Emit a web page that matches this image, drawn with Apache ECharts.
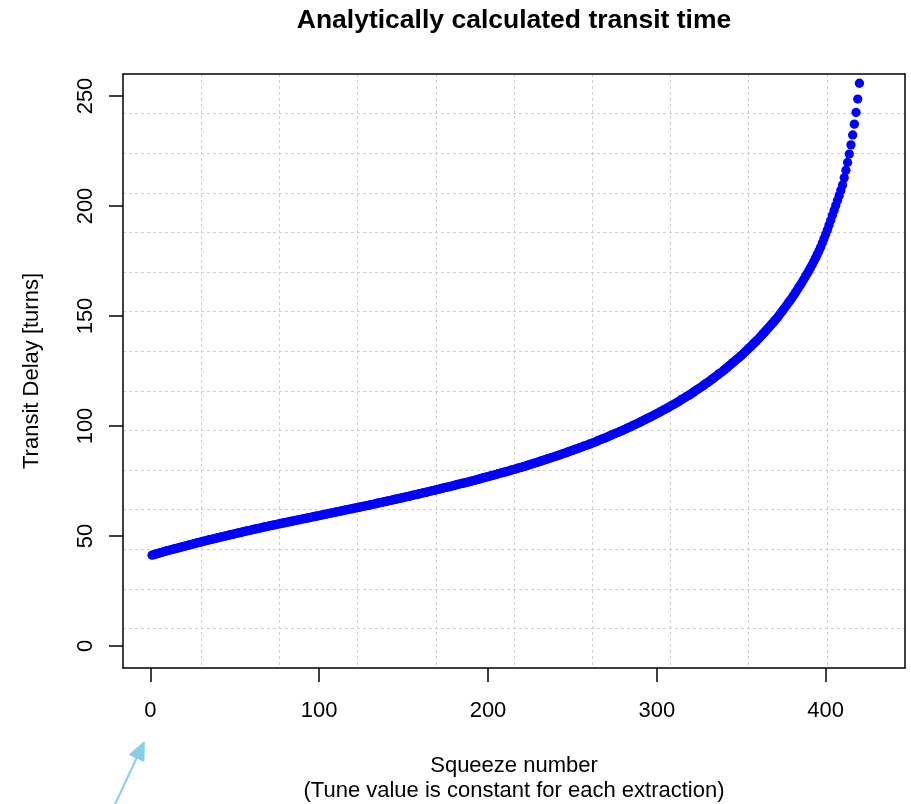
<!DOCTYPE html>
<html>
<head>
<meta charset="utf-8">
<title>Analytically calculated transit time</title>
<script src="https://cdn.jsdelivr.net/npm/echarts@6/dist/echarts.min.js"></script>
<style>
  html, body { margin: 0; padding: 0; background: #ffffff; }
  #chart { width: 911px; height: 804px; }
</style>
</head>
<body>
<div id="chart"></div>
<script>
// Transit delay (turns) for each squeeze, squeeze numbers 1..420 in order.
const firstSqueeze = 1;
const transitDelay = [
  41.3, 41.5, 41.7, 42.0, 42.2, 42.4, 42.6, 42.9, 43.1, 43.3,
  43.5, 43.7, 43.9, 44.1, 44.3, 44.5, 44.7, 44.9, 45.1, 45.3,
  45.5, 45.7, 45.9, 46.1, 46.3, 46.5, 46.7, 46.9, 47.1, 47.3,
  47.5, 47.7, 47.9, 48.1, 48.3, 48.4, 48.6, 48.8, 49.0, 49.2,
  49.4, 49.6, 49.7, 49.9, 50.1, 50.3, 50.5, 50.6, 50.8, 51.0,
  51.2, 51.4, 51.5, 51.7, 51.9, 52.1, 52.3, 52.4, 52.6, 52.8,
  53.0, 53.1, 53.3, 53.5, 53.6, 53.8, 54.0, 54.2, 54.3, 54.5,
  54.7, 54.8, 55.0, 55.1, 55.3, 55.5, 55.6, 55.8, 55.9, 56.1,
  56.3, 56.4, 56.6, 56.7, 56.9, 57.1, 57.2, 57.4, 57.5, 57.7,
  57.9, 58.0, 58.2, 58.3, 58.5, 58.7, 58.8, 59.0, 59.1, 59.3,
  59.5, 59.6, 59.8, 59.9, 60.1, 60.3, 60.4, 60.6, 60.7, 60.9,
  61.1, 61.2, 61.4, 61.5, 61.7, 61.9, 62.0, 62.2, 62.3, 62.5,
  62.7, 62.8, 63.0, 63.1, 63.3, 63.5, 63.6, 63.8, 63.9, 64.1,
  64.3, 64.4, 64.6, 64.8, 65.0, 65.1, 65.3, 65.5, 65.6, 65.8,
  66.0, 66.1, 66.3, 66.5, 66.7, 66.8, 67.0, 67.2, 67.3, 67.5,
  67.7, 67.9, 68.0, 68.2, 68.4, 68.6, 68.8, 68.9, 69.1, 69.3,
  69.5, 69.7, 69.8, 70.0, 70.2, 70.4, 70.6, 70.7, 70.9, 71.1,
  71.3, 71.5, 71.7, 71.9, 72.1, 72.2, 72.4, 72.6, 72.8, 73.0,
  73.2, 73.4, 73.6, 73.8, 74.0, 74.1, 74.3, 74.5, 74.7, 74.9,
  75.1, 75.3, 75.5, 75.7, 75.9, 76.2, 76.4, 76.6, 76.8, 77.0,
  77.2, 77.4, 77.6, 77.8, 78.0, 78.3, 78.5, 78.7, 78.9, 79.1,
  79.3, 79.5, 79.8, 80.0, 80.2, 80.4, 80.6, 80.9, 81.1, 81.3,
  81.5, 81.8, 82.0, 82.3, 82.5, 82.7, 83.0, 83.2, 83.5, 83.7,
  84.0, 84.2, 84.5, 84.7, 85.0, 85.2, 85.5, 85.7, 86.0, 86.2,
  86.5, 86.7, 87.0, 87.3, 87.6, 87.8, 88.1, 88.4, 88.6, 88.9,
  89.2, 89.5, 89.7, 90.0, 90.3, 90.6, 90.9, 91.1, 91.4, 91.7,
  92.0, 92.3, 92.6, 92.9, 93.3, 93.6, 93.9, 94.2, 94.5, 94.8,
  95.1, 95.5, 95.8, 96.1, 96.5, 96.8, 97.1, 97.4, 97.8, 98.1,
  98.5, 98.8, 99.2, 99.5, 99.9, 100.3, 100.6, 101.0, 101.3, 101.7,
  102.1, 102.5, 102.9, 103.3, 103.7, 104.0, 104.4, 104.8, 105.2, 105.6,
  106.0, 106.4, 106.9, 107.3, 107.7, 108.1, 108.5, 109.0, 109.4, 109.8,
  110.3, 110.7, 111.2, 111.7, 112.2, 112.6, 113.1, 113.6, 114.0, 114.5,
  115.0, 115.5, 116.1, 116.6, 117.1, 117.6, 118.1, 118.7, 119.2, 119.7,
  120.3, 120.9, 121.4, 122.0, 122.6, 123.2, 123.8, 124.3, 124.9, 125.5,
  126.2, 126.8, 127.5, 128.1, 128.8, 129.4, 130.1, 130.7, 131.4, 132.0,
  132.7, 133.5, 134.2, 135.0, 135.7, 136.4, 137.2, 137.9, 138.7, 139.4,
  140.2, 141.1, 142.0, 142.8, 143.7, 144.5, 145.4, 146.3, 147.1, 148.0,
  148.9, 149.9, 150.9, 151.9, 153.0, 154.0, 155.0, 156.1, 157.1, 158.2,
  159.3, 160.5, 161.7, 162.9, 164.1, 165.3, 166.6, 167.9, 169.2, 170.5,
  171.9, 173.3, 174.8, 176.3, 177.9, 179.5, 181.2, 183.2, 185.1, 187.0,
  189.1, 191.3, 193.5, 195.8, 198.0, 200.2, 202.5, 204.7, 207.1, 209.5,
  212.8, 216.2, 219.8, 223.6, 227.8, 232.3, 237.2, 242.5, 248.6, 255.8
];

const xTickValues = [0, 100, 200, 300, 400];
const yTickValues = [0, 50, 100, 150, 200, 250];

const chartTitle = 'Analytically calculated transit time';
const xTitleLines = ['Squeeze number', '(Tune value is constant for each extraction)'];
const yTitle = 'Transit Delay [turns]';

const FONT = "'Liberation Sans', Arial, Helvetica, sans-serif";

const points = transitDelay.map((v, i) => [firstSqueeze + i, v]);

const chart = echarts.init(document.getElementById('chart'), null, { renderer: 'canvas' });

// plot box geometry (pixels)
const G = { left: 123, top: 74, right: 6, bottom: 136 };
const plotW = 911 - G.left - G.right;
const plotH = 804 - G.top - G.bottom;
const cx = G.left + plotW / 2;
const cy = G.top + plotH / 2;

const gridLine = { color: '#cfcfcf', type: [3, 3], width: 1 };
const boxLine = { color: '#000000', width: 1.5 };

const option = {
  animation: false,
  backgroundColor: '#ffffff',
  grid: { left: G.left, top: G.top, right: G.right, bottom: G.bottom, containLabel: false },
  xAxis: [
    {
      type: 'value', position: 'bottom', min: -16.2, max: 447,
      axisLine: { show: true, onZero: false, lineStyle: boxLine },
      axisTick: { show: true, inside: false, length: 14, customValues: xTickValues, lineStyle: boxLine },
      axisLabel: { show: true, customValues: xTickValues, fontSize: 22, color: '#000', fontFamily: FONT, margin: 32 },
      splitLine: { show: false }
    },
    {
      // dotted reference grid: 10 equal cells across the plot box
      type: 'value', position: 'top', min: 0, max: 10, interval: 1,
      axisLine: { show: true, onZero: false, lineStyle: boxLine },
      axisTick: { show: false }, axisLabel: { show: false },
      splitLine: { show: true, showMinLine: false, showMaxLine: false, lineStyle: gridLine }
    }
  ],
  yAxis: [
    {
      type: 'value', position: 'left', min: -10, max: 260,
      axisLine: { show: true, onZero: false, lineStyle: boxLine },
      axisTick: { show: true, inside: false, length: 14, customValues: yTickValues, lineStyle: boxLine },
      axisLabel: { show: true, customValues: yTickValues, rotate: 90, fontSize: 22, color: '#000', fontFamily: FONT, margin: 26 },
      splitLine: { show: false }
    },
    {
      // dotted reference grid: 15 equal cells down the plot box
      type: 'value', position: 'right', min: 0, max: 15, interval: 1,
      axisLine: { show: true, onZero: false, lineStyle: boxLine },
      axisTick: { show: false }, axisLabel: { show: false },
      splitLine: { show: true, showMinLine: false, showMaxLine: false, lineStyle: gridLine }
    }
  ],
  series: [
    {
      type: 'scatter',
      xAxisIndex: 0, yAxisIndex: 0,
      data: points,
      symbol: 'circle',
      symbolSize: 9.3,
      itemStyle: { color: '#0000ff', opacity: 1 },
      emphasis: { disabled: true },
      clip: true,
      z: 5
    }
  ],
  graphic: [
    {
      type: 'text', x: cx, y: 21,
      style: { text: chartTitle, font: `bold 26.5px ${FONT}`, fill: '#000', align: 'center', verticalAlign: 'middle' }
    },
    {
      type: 'text', x: cx, y: 766,
      style: { text: xTitleLines[0], font: `22px ${FONT}`, fill: '#000', align: 'center', verticalAlign: 'middle' }
    },
    {
      type: 'text', x: cx, y: 791,
      style: { text: xTitleLines[1], font: `22px ${FONT}`, fill: '#000', align: 'center', verticalAlign: 'middle' }
    },
    {
      type: 'text', x: 32, y: cy, rotation: Math.PI / 2,
      style: { text: yTitle, font: `22px ${FONT}`, fill: '#000', align: 'center', verticalAlign: 'middle' }
    },
    // sky-blue pointer arrow below the axis
    {
      type: 'polyline',
      shape: { points: [[111.5, 812], [138.5, 754]] },
      style: { stroke: '#87ceeb', lineWidth: 2, fill: null }
    },
    {
      type: 'polygon',
      shape: { points: [[144.3, 741.7], [129.4, 754.6], [143.9, 761.4]] },
      style: { fill: '#87ceeb', stroke: '#87ceeb', lineWidth: 1 }
    }
  ]
};

chart.setOption(option);
</script>
</body>
</html>
